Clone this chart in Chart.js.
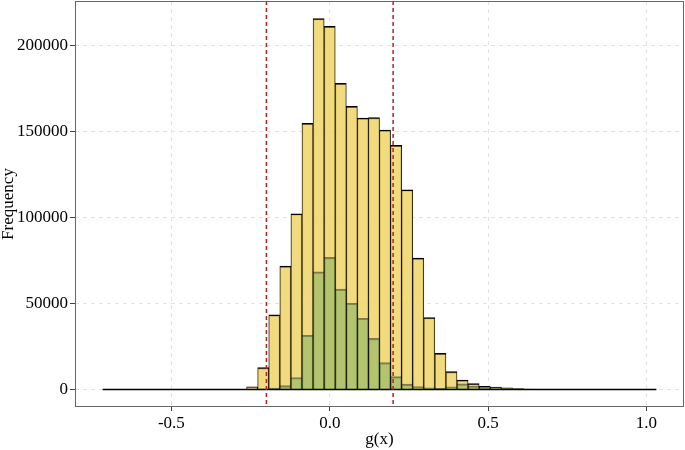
<!DOCTYPE html>
<html>
<head>
<meta charset="utf-8">
<script src="https://cdn.jsdelivr.net/npm/chart.js@4.4.0/dist/chart.umd.min.js"></script>
<style>
  html, body { margin: 0; padding: 0; background: #fff; }
  #wrap { width: 685px; height: 450px; }
</style>
</head>
<body>
<div id="wrap"><canvas id="myChart"></canvas></div>
<script>
// histogram bins: 50 bins from -0.717 to 1.031
const binStart = -0.717;
const binWidth = 0.03496;
const binCenters = [];
for (let k = 0; k < 50; k++) binCenters.push(binStart + (k + 0.5) * binWidth);

// all g(x)
const freqAll = [
  0, 0, 0, 0, 0, 0, 0, 0, 0, 0, 0, 0, 200,
  1500, 12700, 43400, 71800, 102300, 155000, 216000, 211500, 178300, 164900,
  158100, 158300, 151100, 142200, 116300, 76500, 41900, 21100, 10400, 5500,
  3500, 1900, 1400, 900, 500, 300, 200, 120, 100, 80, 60, 50, 40, 30, 30, 20, 10
];
// subset (green)
const freqSub = [
  0, 0, 0, 0, 0, 0, 0, 0, 0, 0, 0, 0, 0,
  0, 300, 800, 2200, 7000, 31600, 68500, 76900, 58400, 50200,
  41500, 29800, 15600, 7500, 3100, 1700, 900, 600, 1500, 3300,
  2000, 1000, 1300, 800, 450, 250, 150, 100, 80, 60, 50, 40, 30, 20, 20, 10, 0
];
const vLines = [-0.2, 0.2];
const xTicks = [-0.5, 0, 0.5, 1.0];
const yTicks = [0, 50000, 100000, 150000, 200000];

const serif = "'Liberation Serif', 'DejaVu Serif', serif";
const ctx = document.getElementById('myChart');

const framePlugin = {
  id: 'frame',
  afterDatasetsDraw(chart) {
    const c = chart.ctx, a = chart.chartArea, x = chart.scales.x;
    c.save();
    c.strokeStyle = '#B22222';
    c.lineWidth = 1.5;
    c.setLineDash([4, 3]);
    vLines.forEach(v => {
      const px = x.getPixelForValue(v);
      c.beginPath();
      c.moveTo(px, a.top);
      c.lineTo(px, a.bottom);
      c.stroke();
    });
    c.setLineDash([]);
    c.strokeStyle = '#666';
    c.lineWidth = 1;
    c.strokeRect(a.left + 0.5, a.top + 0.5, a.right - a.left - 1, a.bottom - a.top - 1);
    c.restore();
  }
};

new Chart(ctx, {
  data: {
    datasets: [{
      type: 'line',
      data: [{x: binStart, y: 0}, {x: binStart + 50 * binWidth, y: 0}],
      borderColor: '#000',
      borderWidth: 1.5,
      pointRadius: 0,
      order: 0
    }, {
      type: 'bar',
      data: binCenters.map((c, i) => ({x: c, y: freqSub[i]})),
      backgroundColor: 'rgba(118,174,94,0.5)',
      borderColor: 'rgba(0,0,0,0.45)',
      borderWidth: {top: 1.5, left: 0.8, right: 0.8, bottom: 0},
      barPercentage: 1,
      categoryPercentage: 1,
      grouped: false,
      order: 1
    }, {
      type: 'bar',
      data: binCenters.map((c, i) => ({x: c, y: freqAll[i]})),
      backgroundColor: 'rgba(240,211,103,0.85)',
      borderColor: '#000',
      borderWidth: {top: 1.5, left: 0.8, right: 0.8, bottom: 0},
      barPercentage: 1,
      categoryPercentage: 1,
      grouped: false,
      order: 2
    }]
  },
  options: {
    responsive: true,
    maintainAspectRatio: false,
    animation: false,
    layout: { padding: { top: 1, right: 1, left: 0, bottom: 0 } },
    plugins: { legend: { display: false }, tooltip: { enabled: false } },
    scales: {
      x: {
        type: 'linear',
        offset: false,
        min: -0.8044,
        max: 1.1184,
        afterBuildTicks: s => { s.ticks = xTicks.map(v => ({value: v})); },
        afterFit: s => { s.height = 43; s.paddingLeft = 0; s.paddingRight = 0; },
        ticks: {
          color: '#000',
          font: { family: serif, size: 17 },
          padding: 2,
          maxRotation: 0,
          callback: v => v.toFixed(1)
        },
        grid: { offset: false, color: '#e3e3e3', tickColor: '#444', tickLength: 4, tickBorderDash: [] },
        border: { display: false, dash: [4, 4] },
        title: {
          display: true, text: 'g(x)', color: '#000',
          font: { family: serif, size: 17, lineHeight: 1 },
          padding: { top: 0, bottom: 2 }
        }
      },
      y: {
        min: -10200,
        max: 226200,
        afterBuildTicks: s => { s.ticks = yTicks.map(v => ({value: v})); },
        afterFit: s => { s.width = 75; s.paddingTop = 0; s.paddingBottom = 0; },
        ticks: {
          color: '#000',
          font: { family: serif, size: 17 },
          padding: 2,
          callback: v => String(v)
        },
        grid: { color: '#e3e3e3', tickColor: '#444', tickLength: 5, tickBorderDash: [] },
        border: { display: false, dash: [4, 4] },
        title: {
          display: true, text: 'Frequency', color: '#000',
          font: { family: serif, size: 17, lineHeight: 1 },
          padding: { top: 0, bottom: 0 }
        }
      }
    }
  },
  plugins: [framePlugin]
});
</script>
</body>
</html>
